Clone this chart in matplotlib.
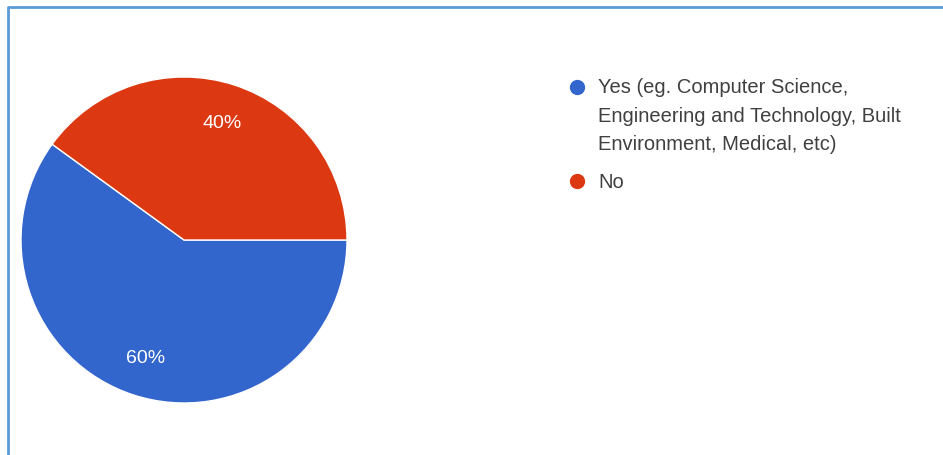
import matplotlib
matplotlib.use("Agg")
import matplotlib.pyplot as plt
from matplotlib.lines import Line2D

labels = ["Yes (eg. Computer Science,\nEngineering and Technology, Built\nEnvironment, Medical, etc)", "No"]
values = [60, 40]
colors = ["#3366cc", "#dc3912"]

W, H = 943, 456


def px(x, y):
    """Pixel position (from top-left) to figure fraction."""
    return x / W, 1 - y / H


def main():
    plt.rcParams["font.family"] = ["Liberation Sans", "DejaVu Sans"]
    fig = plt.figure(figsize=(W / 100, H / 100), dpi=100)

    # pie
    cx, cy, r = 184, 241, 163
    ax = fig.add_axes([(cx - r) / W, (H - cy - r) / H, 2 * r / W, 2 * r / H])
    wedges, _, autotexts = ax.pie(
        values, colors=colors, startangle=0, counterclock=False,
        autopct="%1.0f%%", pctdistance=0.76, radius=1,
        wedgeprops={"edgecolor": "white", "linewidth": 1},
        textprops={"color": "white", "fontsize": 14})
    ax.set_xlim(-1, 1)
    ax.set_ylim(-1, 1)

    # legend drawn by hand so the lines space like the original
    first_y = [88, 182]
    line_gap = 28.5
    for label, color, y0 in zip(labels, colors, first_y):
        mx, my = px(577, y0)
        fig.add_artist(Line2D([mx], [my], marker="o", markersize=10,
                              color=color, linestyle="none",
                              transform=fig.transFigure))
        for i, line in enumerate(label.split("\n")):
            tx, ty = px(598, y0 + i * line_gap)
            fig.text(tx, ty, line, fontsize=14.5, color="#404040",
                     va="center", ha="left")

    # light blue frame on top and left
    fx, fy = px(8, 8)
    fig.add_artist(Line2D([fx, fx, 1], [0, fy, fy], color="#5b9bd5",
                          linewidth=2, transform=fig.transFigure))

    fig.savefig("out.png", dpi=100)


if __name__ == "__main__":
    main()
